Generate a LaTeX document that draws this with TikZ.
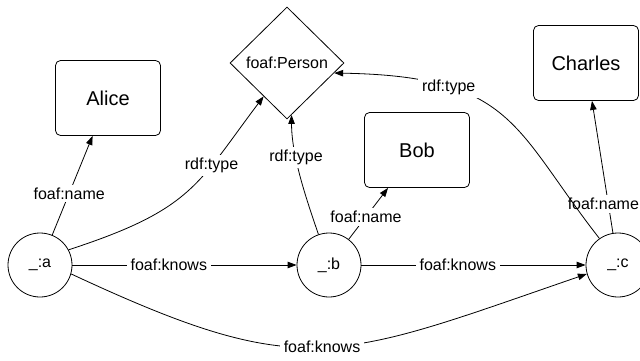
\documentclass[tikz,border=0pt]{standalone}
\usepackage{fontspec}
\setmainfont{Liberation Sans}
\usetikzlibrary{
    arrows.meta,
    shapes.geometric
}

\begin{document}
\begin{tikzpicture}[
    x=1pt, y=1pt, line width=0.8pt,
    >={Triangle[length=9pt, width=6.5pt]},
    blanknode/.style = {circle, draw, minimum size=64pt, inner sep=0pt,
                        font=\fontsize{16}{19}\selectfont},
    namenode/.style  = {rectangle, draw, rounded corners=5pt,
                        minimum width=105pt, minimum height=75pt,
                        font=\fontsize{20}{24}\selectfont},
    classnode/.style = {diamond, draw, minimum width=114pt,
                        minimum height=112pt, inner sep=0pt,
                        font=\fontsize{16}{19}\selectfont},
    edgelabel/.style = {fill=white, inner xsep=4pt, inner ysep=3pt,
                        font=\fontsize{16}{19}\selectfont},
]
    \useasboundingbox (0,0) rectangle (640,360);

    %Nodes
    \node[blanknode]  (a)       at (40,95)   {\_:a};
    \node[blanknode]  (b)       at (329,95)  {\_:b};
    \node[blanknode]  (c)       at (618,95)  {\_:c};
    \node[namenode]   (Alice)   at (108,262) {Alice};
    \node[namenode]   (Bob)     at (417,210) {Bob};
    \node[namenode]   (Charles) at (586,297) {Charles};
    \node[classnode]  (Person)  at (287,297) {foaf:Person};

    %Lines
    \draw[->] (a) -- node[edgelabel, pos=0.42] {foaf:name} (Alice);
    \draw[->] (b) -- node[edgelabel, pos=0.44] {foaf:name} (Bob);
    \draw[->] (c) -- node[edgelabel, pos=0.22, xshift=-5pt] {foaf:name} (Charles);
    \draw[->] (a) -- node[edgelabel, pos=0.43] {foaf:knows} (b);
    \draw[->] (b) -- node[edgelabel, pos=0.43] {foaf:knows} (c);
    \draw[->] (a.28) ..
              controls +(18:130) and +(233:110)
              .. node[edgelabel, pos=0.67] {rdf:type} (Person.235);
    \draw[->] (b.109) ..
              controls +(109:40) and +(-90:40)
              .. node[edgelabel, pos=0.65] {rdf:type} (Person.-85);
    \draw[->] (c.125) ..
              controls +(128:140) and +(-1:180)
              .. node[edgelabel, pos=0.72] {rdf:type} (Person.-12);
    \draw[->] (a.-16) ..
              controls +(-25:257) and +(199:266)
              .. node[edgelabel, pos=0.5] {foaf:knows} (c.196);
\end{tikzpicture}
\end{document}
